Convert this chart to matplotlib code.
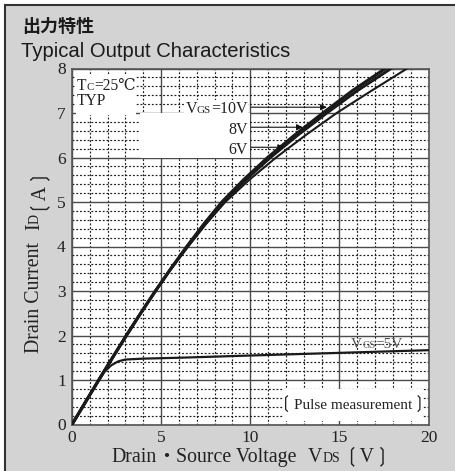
import matplotlib
matplotlib.use("Agg")
import matplotlib.pyplot as plt
from matplotlib.patches import Rectangle
from matplotlib.lines import Line2D
from matplotlib.ticker import MultipleLocator
from matplotlib.transforms import IdentityTransform

# ---------------- data ----------------
id_10v = [0, 0.5, 1.0, 1.5, 2.0, 2.5, 3.0, 3.5, 4.0, 4.5, 5.0, 5.5, 6.0, 6.5, 7.0, 7.5, 8.0]
vds_10v = [0, 0.75, 1.5, 2.27, 3.05, 3.85, 4.68, 5.54, 6.44, 7.39, 8.41, 9.63, 10.98, 12.48,
           14.08, 15.73, 17.58]

id_8v = [0, 0.5, 1.0, 1.5, 2.0, 2.5, 3.0, 3.5, 4.0, 4.5, 5.0, 5.5, 6.0, 6.5, 7.0, 7.5, 8.0]
vds_8v = [0, 0.75, 1.5, 2.27, 3.05, 3.85, 4.68, 5.55, 6.49, 7.47, 8.51, 9.75, 11.13, 12.66,
          14.3, 16.0, 17.9]

id_6v = [0, 0.5, 1.0, 1.5, 2.0, 2.5, 3.0, 3.5, 4.0, 4.5, 5.0, 5.5, 6.0, 6.5, 7.0, 7.5, 8.0]
vds_6v = [0, 0.75, 1.5, 2.27, 3.05, 3.85, 4.68, 5.55, 6.5, 7.5, 8.6, 9.95, 11.45, 13.1,
          14.85, 16.8, 18.8]

vds_5v = [0, 1.0, 1.8, 2.2, 2.6, 3.0, 4.0, 6.0, 10.0, 15.0, 20.0]
id_5v = [0, 0.67, 1.18, 1.33, 1.42, 1.46, 1.48, 1.5, 1.55, 1.61, 1.67]

x_ticks = [0, 5, 10, 15, 20]
y_ticks = [0, 1, 2, 3, 4, 5, 6, 7, 8]

title_jp = "出力特性"
title_en = "Typical Output Characteristics"

# ---------------- figure ----------------
W, H = 455, 471
BG = "#d3d3d3"
SERIF = ["Liberation Serif", "DejaVu Serif", "DejaVu Sans", "Noto Sans CJK JP"]
fig = plt.figure(figsize=(W / 100, H / 100), dpi=100, facecolor="white")

# gray panel with top / left border
fig.patches.append(Rectangle((5 / W, 0), 1, 1 - 5 / H, transform=fig.transFigure,
                             facecolor=BG, edgecolor="none", zorder=-10))
fig.lines.append(Line2D([5 / W, 1], [1 - 5 / H, 1 - 5 / H], transform=fig.transFigure,
                        color="#333333", lw=1.5, zorder=-9))
fig.lines.append(Line2D([5 / W, 5 / W], [0, 1 - 5 / H], transform=fig.transFigure,
                        color="#333333", lw=1.5, zorder=-9))

ax_l, ax_r, ax_t, ax_b = 72, 428.5, 68.5, 424.5
ax = fig.add_axes([ax_l / W, 1 - ax_b / H, (ax_r - ax_l) / W, (ax_b - ax_t) / H])
ax.set_zorder(1)
ax.set_facecolor("white")
ax.set_xlim(x_ticks[0], x_ticks[-1])
ax.set_ylim(y_ticks[0], y_ticks[-1])
ax.xaxis.set_major_locator(MultipleLocator(5))
ax.xaxis.set_minor_locator(MultipleLocator(1))
ax.yaxis.set_major_locator(MultipleLocator(1))
ax.yaxis.set_minor_locator(MultipleLocator(0.2))
ax.set_axisbelow(True)
ax.grid(which="major", color="#4a4a4a", lw=1.0, ls="-")
ax.grid(which="minor", color="#1e1e1e", lw=0.85, ls=(0, (1.6, 1.6)))
for s in ax.spines.values():
    s.set_color("#555555")
    s.set_linewidth(1.2)
ax.tick_params(which="both", length=0)
ax.tick_params(axis="x", pad=4)
ax.tick_params(axis="y", pad=4.5)
ax.set_xticks(x_ticks)
ax.set_yticks(y_ticks)
for lab in ax.get_xticklabels() + ax.get_yticklabels():
    lab.set_family(SERIF)
    lab.set_fontsize(12.5)
    lab.set_color("#222222")

# white label boxes (in data units)
for (x0, y0, w, h) in [(0.25, 6.95, 3.35, 0.92), (3.8, 6.0, 6.2, 1.0),
                       (6.3, 6.98, 3.6, 0.32), (11.9, 0.08, 7.75, 0.72)]:
    ax.add_patch(Rectangle((x0, y0), w, h, facecolor="white", edgecolor="none", zorder=1))

# curves
LC = "#1a1a1a"
ax.plot(vds_10v, id_10v, color=LC, lw=2.3, zorder=3, solid_joinstyle="round")
ax.plot(vds_8v, id_8v, color=LC, lw=2.1, zorder=3, solid_joinstyle="round")
ax.plot(vds_6v, id_6v, color=LC, lw=1.5, zorder=3, solid_joinstyle="round")
ax.plot(vds_5v, id_5v, color=LC, lw=1.6, zorder=3, solid_joinstyle="round")

# arrows
for (y, xt) in [(7.13, 14.3), (6.68, 12.95), (6.23, 11.9)]:
    ax.annotate("", xy=(xt, y), xytext=(10.05, y),
                arrowprops=dict(arrowstyle="-|>", lw=0.8, color="#111111",
                                mutation_scale=9, shrinkA=0, shrinkB=0), zorder=4)

renderer = fig.canvas.get_renderer()


def rich(x, y, pieces, transform, ha="left", rotation=0, color="#222222", family=SERIF):
    """Place text pieces (str, size) or gaps (None, px) one after another on a baseline."""
    items = []
    for s, v in pieces:
        if s is None:
            items.append((None, v))
        else:
            t = fig.text(0, 0, s, fontsize=v, family=family, color=color, rotation=rotation,
                         rotation_mode="anchor", ha="left", va="baseline",
                         transform=IdentityTransform(), zorder=5)
            bb = t.get_window_extent(renderer)
            items.append((t, bb.height if rotation == 90 else bb.width))
    total = sum(w for _, w in items)
    X, Y = transform.transform((x, y))
    pos = -{"left": 0, "center": total / 2, "right": total}[ha]
    for t, w in items:
        if t is not None:
            t.set_position((X, Y + pos) if rotation == 90 else (X + pos, Y))
        pos += w


def px(xp, yp):
    return (xp, H - yp)


ident = IdentityTransform()

# titles
fig.text(22 / W, 1 - 32 / H, title_jp, fontsize=13, fontweight="bold",
         family=["Noto Sans CJK JP"], color="#1a1a1a", va="baseline")
fig.text(21 / W, 1 - 57 / H, title_en, fontsize=14.6, family=["Liberation Sans"],
         color="#1a1a1a", va="baseline")

# axis labels
rich(*px(251, 462), [("Drain", 14.3), ("・", 14.3),
                     ("Source Voltage", 14.3), (None, 11),
                     ("V", 14.3), ("DS", 10), (None, 3), ("❲V❳", 14.3)],
     ident, ha="center")
rich(*px(39, 258), [("Drain Current", 14.3), (None, 12), ("I", 14.3), ("D", 10),
                    (None, 3), ("❲A❳", 14.3)],
     ident, ha="center", rotation=90)

# annotations inside the plot
rich(*px(77, 89.5), [("T", 11.2), ("C", 7.8), ("=25℃", 11.2)], ident)
rich(*px(77, 105), [("TYP", 11.2)], ident)
rich(9.85, 7.0, [("V", 11.5), ("GS", 8), ("=10V", 11.5)], ax.transData, ha="right")
rich(9.85, 6.52, [("8V", 11.5)], ax.transData, ha="right")
rich(9.85, 6.07, [("6V", 11.5)], ax.transData, ha="right")
rich(18.55, 1.73, [("V", 11), ("GS", 7.5), ("=5V", 11)], ax.transData, ha="right",
     color="#555555")
rich(15.75, 0.34, [("❲", 12.5), ("Pulse measurement", 11), ("❳", 12.5)], ax.transData,
     ha="center")

fig.savefig("out.png", dpi=100, facecolor=fig.get_facecolor())
